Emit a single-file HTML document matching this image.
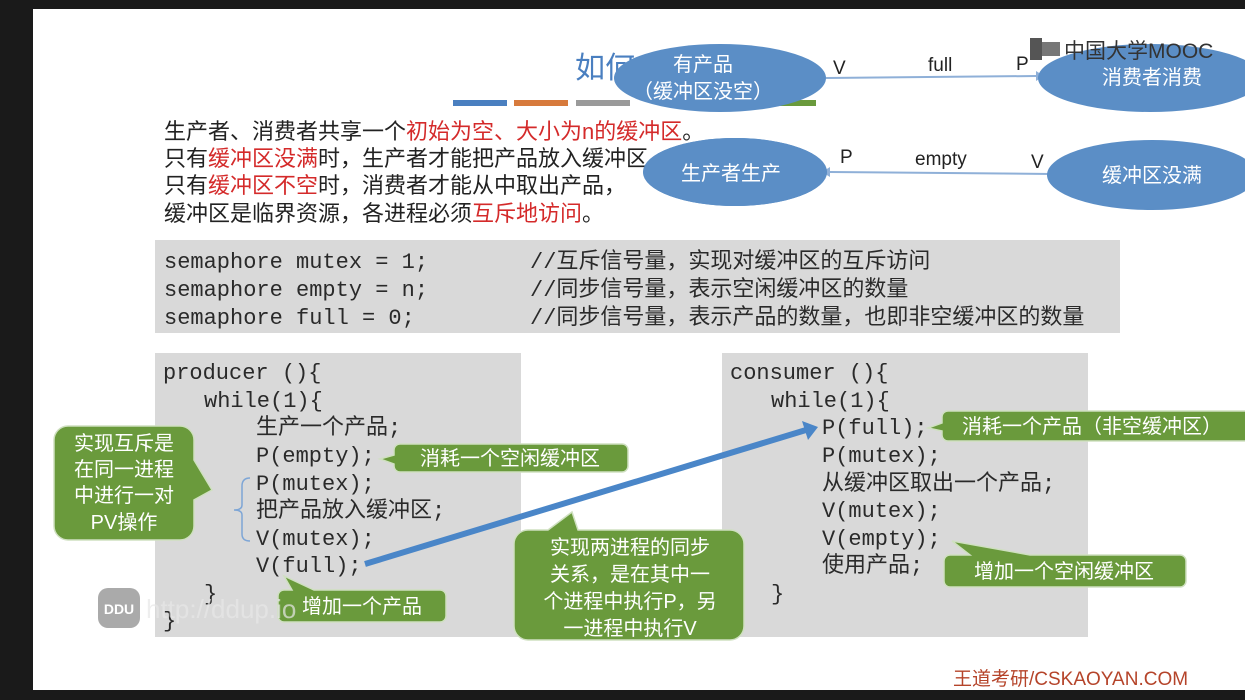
<!DOCTYPE html>
<html><head><meta charset="utf-8"><style>
html,body{margin:0;padding:0;width:1245px;height:700px;overflow:hidden;background:#000}
svg{display:block}
.cj{font-family:"Liberation Sans","Noto Sans CJK SC",sans-serif}
.mo{font-family:"Liberation Mono","Noto Sans CJK SC",monospace;font-size:22px;fill:#2a2a2a}
</style></head><body>
<svg width="1245" height="700" viewBox="0 0 1245 700" xmlns="http://www.w3.org/2000/svg">
<rect x="0" y="0" width="1245" height="700" fill="#1a1a1a"/>
<rect x="33" y="9" width="1212" height="681" fill="#ffffff"/>
<text x="575" y="78" class="cj" font-size="30" fill="#4a7fc0">如何</text>
<rect x="453" y="100" width="54" height="6" fill="#4a7fc0"/>
<rect x="514" y="100" width="54" height="6" fill="#d77a3c"/>
<rect x="576" y="100" width="54" height="6" fill="#9a9a9a"/>
<rect x="760" y="100" width="56" height="6" fill="#6a9a3c"/>
<line x1="826" y1="78" x2="1036" y2="76" stroke="#8fb0d8" stroke-width="2"/>
<polygon points="1036,71 1044,76 1036,81" fill="#8fb0d8"/>
<line x1="1052" y1="174" x2="830" y2="172" stroke="#8fb0d8" stroke-width="2"/>
<polygon points="830,167 822,172 830,177" fill="#8fb0d8"/>
<text x="833" y="74" class="cj" font-size="19" fill="#222">V</text>
<text x="928" y="71" class="cj" font-size="19" fill="#222">full</text>
<text x="1016" y="70" class="cj" font-size="19" fill="#222">P</text>
<text x="840" y="163" class="cj" font-size="19" fill="#222">P</text>
<text x="915" y="165" class="cj" font-size="19" fill="#222">empty</text>
<text x="1031" y="168" class="cj" font-size="19" fill="#222">V</text>
<ellipse cx="720" cy="78" rx="106" ry="34" fill="#5b8ec6"/>
<ellipse cx="1150" cy="78" rx="112" ry="34" fill="#5b8ec6"/>
<ellipse cx="735" cy="172" rx="92" ry="34" fill="#5b8ec6"/>
<ellipse cx="1152" cy="175" rx="105" ry="35" fill="#5b8ec6"/>
<text x="703" y="71" class="cj" font-size="20" fill="#fff" text-anchor="middle">有产品</text>
<text x="703" y="98" class="cj" font-size="20" fill="#fff" text-anchor="middle">（缓冲区没空）</text>
<text x="1152" y="84" class="cj" font-size="20" fill="#fff" text-anchor="middle">消费者消费</text>
<text x="731" y="180" class="cj" font-size="20" fill="#fff" text-anchor="middle">生产者生产</text>
<text x="1152" y="182" class="cj" font-size="20" fill="#fff" text-anchor="middle">缓冲区没满</text>
<rect x="1030" y="38" width="12" height="22" fill="#555"/>
<rect x="1042" y="42" width="18" height="14" fill="#777"/>
<text x="1064" y="58" class="cj" font-size="21" fill="#333">中国大学MOOC</text>
<g class="cj" font-size="22" fill="#222">
<text x="164" y="139">生产者、消费者共享一个<tspan fill="#d42a2a">初始为空、大小为n的缓冲区</tspan>。</text>
<text x="164" y="166">只有<tspan fill="#d42a2a">缓冲区没满</tspan>时，生产者才能把产品放入缓冲区</text>
<text x="164" y="193">只有<tspan fill="#d42a2a">缓冲区不空</tspan>时，消费者才能从中取出产品，</text>
<text x="164" y="221">缓冲区是临界资源，各进程必须<tspan fill="#d42a2a">互斥地访问</tspan>。</text>
</g>
<ellipse cx="735" cy="172" rx="92" ry="34" fill="#5b8ec6"/>
<text x="731" y="180" class="cj" font-size="20" fill="#fff" text-anchor="middle">生产者生产</text>
<rect x="155" y="240" width="965" height="93" fill="#d9d9d9"/>
<rect x="155" y="353" width="366" height="284" fill="#d9d9d9"/>
<rect x="722" y="353" width="366" height="284" fill="#d9d9d9"/>
<g class="mo">
<text x="164" y="268">semaphore mutex = 1;</text>
<text x="164" y="296">semaphore empty = n;</text>
<text x="164" y="324">semaphore full = 0;</text>
<text x="530" y="268">//互斥信号量，实现对缓冲区的互斥访问</text>
<text x="530" y="296">//同步信号量，表示空闲缓冲区的数量</text>
<text x="530" y="324">//同步信号量，表示产品的数量，也即非空缓冲区的数量</text>
<text x="163" y="379">producer (){</text>
<text x="204" y="407">while(1){</text>
<text x="256" y="434">生产一个产品;</text>
<text x="256" y="462">P(empty);</text>
<text x="256" y="490">P(mutex);</text>
<text x="256" y="517">把产品放入缓冲区;</text>
<text x="256" y="545">V(mutex);</text>
<text x="256" y="572">V(full);</text>
<text x="204" y="600">}</text>
<text x="163" y="627">}</text>
<text x="730" y="379">consumer (){</text>
<text x="771" y="407">while(1){</text>
<text x="822" y="434">P(full);</text>
<text x="822" y="462">P(mutex);</text>
<text x="822" y="490">从缓冲区取出一个产品;</text>
<text x="822" y="517">V(mutex);</text>
<text x="822" y="545">V(empty);</text>
<text x="822" y="572">使用产品;</text>
<text x="771" y="600">}</text>
</g>
<path d="M250,478 Q242,478 242,486 L242,505 Q242,510 234,510 Q242,510 242,515 L242,534 Q242,541 250,541" fill="none" stroke="#7ea6d6" stroke-width="1.5"/>
<line x1="365" y1="564" x2="806" y2="430" stroke="#4a86c8" stroke-width="6"/>
<polygon points="802,421 818,427 808,440" fill="#4a86c8"/>
<g fill="#6a9a3c" stroke="#cfe0c0" stroke-width="1.5">
<path d="M68,426 h112 a14,14 0 0 1 14,14 v20 l18,30 l-18,10 v26 a14,14 0 0 1 -14,14 h-112 a14,14 0 0 1 -14,-14 v-86 a14,14 0 0 1 14,-14z"/>
<path d="M400,444 h222 a6,6 0 0 1 6,6 v16 a6,6 0 0 1 -6,6 h-222 a6,6 0 0 1 -6,-6 v-2 l-14,-5 l14,-4 v-5 a6,6 0 0 1 6,-6z"/>
<path d="M284,590 h8 l-8,-14 l30,14 h126 a6,6 0 0 1 6,6 v20 a6,6 0 0 1 -6,6 h-156 a6,6 0 0 1 -6,-6 v-20 a6,6 0 0 1 6,-6z"/>
<path d="M528,530 h20 l24,-18 l6,18 h152 a14,14 0 0 1 14,14 v82 a14,14 0 0 1 -14,14 h-202 a14,14 0 0 1 -14,-14 v-82 a14,14 0 0 1 14,-14z"/>
<path d="M948,411 h300 v30 h-300 a6,6 0 0 1 -6,-6 v-4 l-14,-3 l14,-5 v-6 a6,6 0 0 1 6,-6z"/>
<path d="M1030,555 h150 a6,6 0 0 1 6,6 v20 a6,6 0 0 1 -6,6 h-230 a6,6 0 0 1 -6,-6 v-20 a6,6 0 0 1 6,-6 h20 l-18,-14z"/>
</g>
<g class="cj" font-size="20" fill="#fff" text-anchor="middle">
<text x="124" y="450">实现互斥是</text>
<text x="124" y="476">在同一进程</text>
<text x="124" y="502">中进行一对</text>
<text x="124" y="529">PV操作</text>
<text x="510" y="465">消耗一个空闲缓冲区</text>
<text x="362" y="613">增加一个产品</text>
<text x="630" y="554">实现两进程的同步</text>
<text x="630" y="581">关系，是在其中一</text>
<text x="630" y="608">个进程中执行P，另</text>
<text x="630" y="635">一进程中执行V</text>
<text x="1092" y="433">消耗一个产品（非空缓冲区）</text>
<text x="1064" y="578">增加一个空闲缓冲区</text>
</g>
<rect x="98" y="588" width="42" height="40" rx="10" fill="#aaa"/>
<text x="119" y="614" class="cj" font-size="14" fill="#fff" text-anchor="middle" font-weight="bold">DDU</text>
<text x="146" y="618" class="cj" font-size="26" fill="#e8e8e8" opacity="0.7">http://ddup.io</text>
<text x="953" y="685" class="cj" font-size="19" fill="#b5442a">王道考研/CSKAOYAN.COM</text>
</svg>
</body></html>
